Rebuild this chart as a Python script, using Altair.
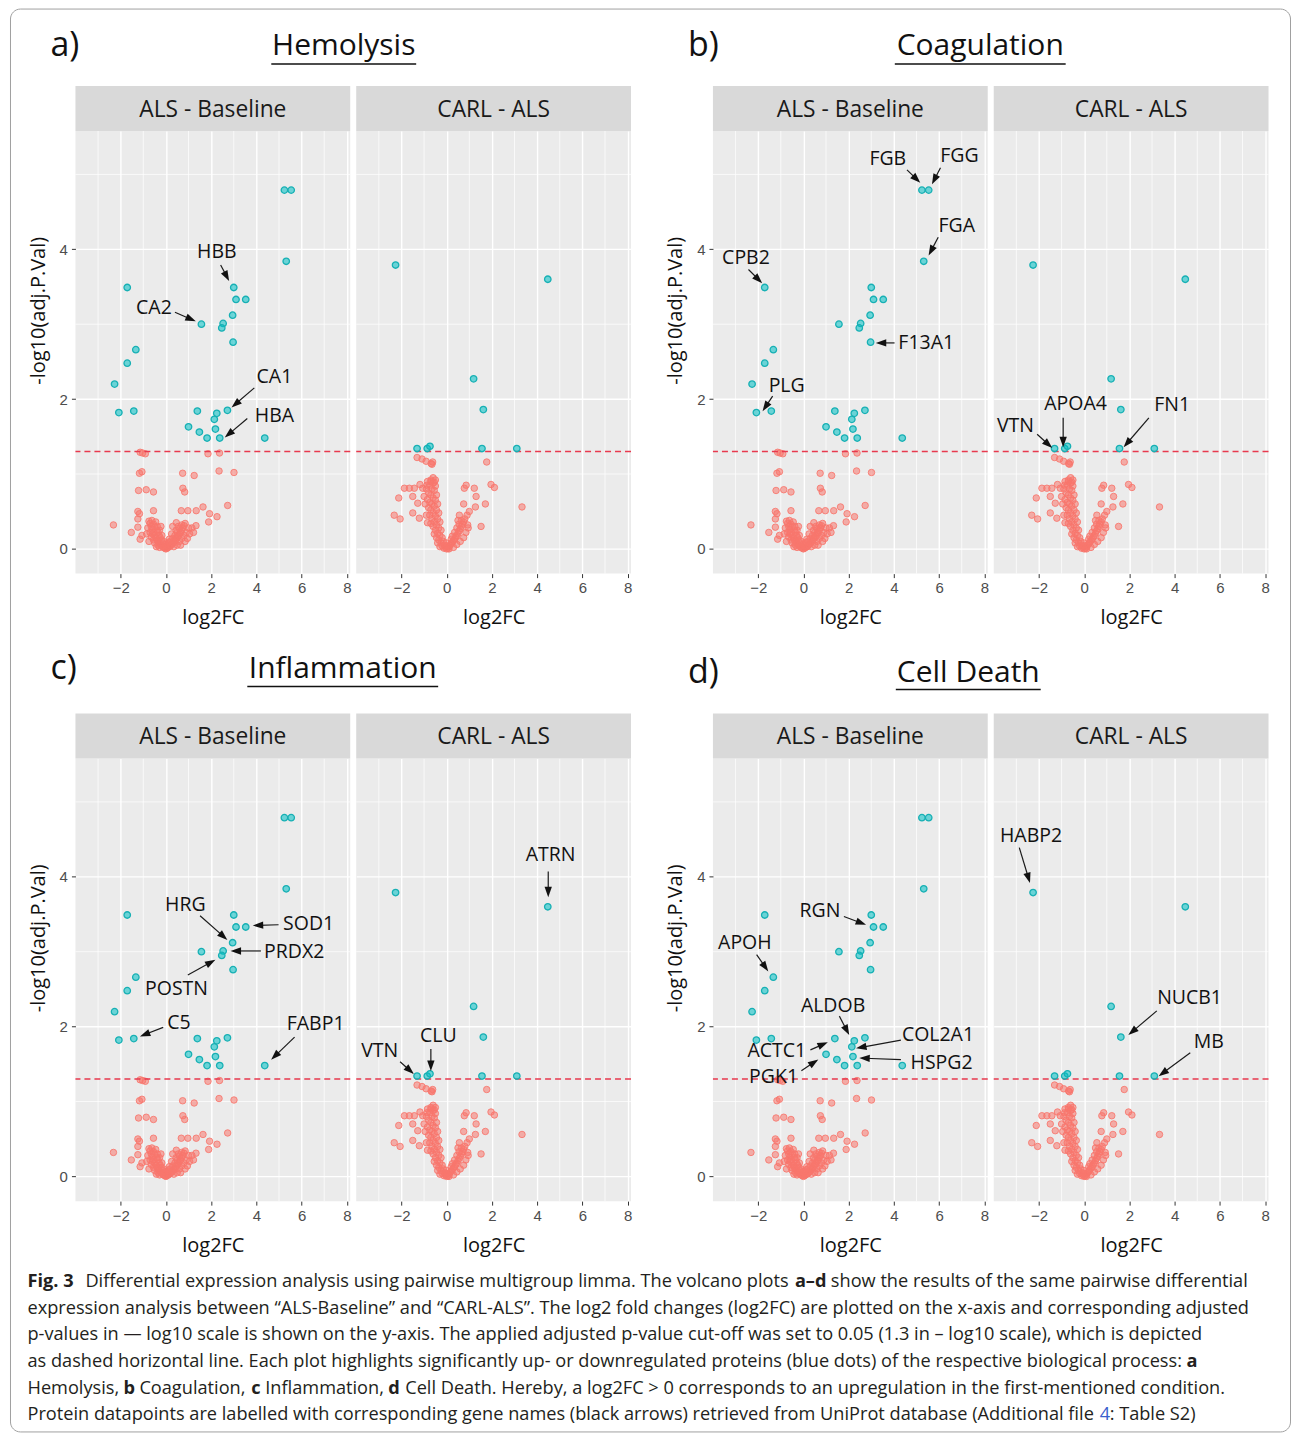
import math
import altair as alt
import pandas as pd

# ---------------- data ----------------
# ALS - Baseline : significant proteins (blue)
als_sig_x = [5.24, 5.54, 5.32, -1.71, 3.00, 3.10, 3.53, 2.95, 1.57, 2.53, 2.47, 2.97, -1.33, -1.71,
             -2.27, -2.08, -1.42, 1.39, 2.25, 2.72, 2.14, 1.00, 1.48, 2.19, 1.82, 2.38, 4.37]
als_sig_y = [4.79, 4.79, 3.84, 3.49, 3.49, 3.33, 3.33, 3.12, 3.00, 3.01, 2.95, 2.76, 2.66, 2.48,
             2.20, 1.82, 1.84, 1.84, 1.81, 1.85, 1.73, 1.63, 1.56, 1.60, 1.48, 1.48, 1.48]
# ALS - Baseline : non significant, scattered (red)
als_ns_x = [-1.14, -0.91, -1.03, 1.86, 2.37, -1.17, -1.06, 0.74, 1.25, 2.35, 3.01, -1.21, -0.87,
            -0.55, 0.75, 0.83, -1.24, -1.17, -0.55, 0.68, 0.97, 1.34, 1.64, 1.93, 2.26, 2.73, 1.89,
            1.33, -2.32, -1.53, -1.24, -1.14, 0.46, 1.15, 1.22, -1.24, -1.06]
als_ns_y = [1.29, 1.27, 1.28, 1.27, 1.28, 1.01, 1.03, 1.01, 0.98, 1.04, 1.02, 0.78, 0.79,
            0.76, 0.81, 0.76, 0.50, 0.47, 0.51, 0.51, 0.51, 0.51, 0.56, 0.47, 0.43, 0.58, 0.36,
            0.31, 0.32, 0.22, 0.29, 0.13, 0.35, 0.28, 0.22, 0.40, 0.18]
# ALS - Baseline : dense V of non significant proteins
als_v = [(0.0, 0.0), (-0.05, 0.01), (0.05, 0.01), (-0.1, 0.02), (0.1, 0.02), (-0.15, 0.03), (0.15, 0.03),
         (-0.2, 0.05), (0.2, 0.04), (-0.25, 0.06), (0.25, 0.06), (-0.3, 0.08), (0.3, 0.07), (-0.35, 0.1),
         (0.35, 0.09), (-0.4, 0.12), (0.4, 0.11), (-0.45, 0.15), (0.45, 0.13), (-0.5, 0.18), (0.5, 0.15),
         (-0.55, 0.22), (0.55, 0.17), (-0.6, 0.26), (0.6, 0.2), (-0.65, 0.3), (0.65, 0.22), (-0.7, 0.34),
         (0.7, 0.25), (-0.75, 0.37), (0.75, 0.28), (0.8, 0.31), (0.85, 0.34), (-0.2, 0.12), (-0.3, 0.18),
         (-0.4, 0.25), (-0.5, 0.3), (-0.45, 0.36), (-0.6, 0.2), (-0.35, 0.05), (-0.55, 0.12), (-0.65, 0.16),
         (-0.7, 0.22), (-0.8, 0.28), (-0.25, 0.15), (-0.15, 0.08), (-0.35, 0.22), (-0.5, 0.08), (-0.42, 0.03),
         (-0.28, 0.02), (-0.62, 0.38), (-0.55, 0.33), (-0.38, 0.3), (-0.28, 0.25), (-0.18, 0.18), (0.2, 0.1),
         (0.3, 0.14), (0.4, 0.18), (0.5, 0.22), (0.6, 0.27), (0.7, 0.32), (0.35, 0.03), (0.5, 0.05),
         (0.6, 0.1), (0.7, 0.14), (0.8, 0.18), (0.9, 0.22), (0.45, 0.25), (0.55, 0.3), (0.25, 0.2),
         (0.65, 0.05), (0.15, 0.13), (0.95, 0.14), (1.0, 0.28), (0.02, 0.04), (-0.03, 0.06), (0.08, 0.07),
         (-0.1, 0.1), (0.12, 0.09), (-0.85, 0.2), (-0.75, 0.1), (0.85, 0.1), (1.05, 0.2), (0.3, 0.3),
         (-0.22, 0.3)]

# CARL - ALS : significant proteins (blue)
carl_sig_x = [-2.26, 4.47, 1.19, 1.62, -1.31, -0.86, -0.74, 1.56, 3.10]
carl_sig_y = [3.79, 3.60, 2.27, 1.86, 1.34, 1.34, 1.37, 1.34, 1.34]
# CARL - ALS : non significant, scattered (red)
carl_ns_x = [-1.31, -1.09, -0.91, -0.69, -0.65, -0.62, 1.77, -1.87, -1.65, -1.43, -1.18, -1.06,
             -0.87, -0.69, -0.55, 0.86, 0.78, 1.22, 1.96, 2.11, -2.12, -1.50, -1.28, 0.75, 1.30,
             1.71, 1.27, 3.33, -2.32, -2.06, -1.50, -1.21, 1.52, 0.93, 0.56]
carl_ns_y = [1.22, 1.20, 1.17, 1.14, 1.13, 1.16, 1.16, 0.81, 0.81, 0.81, 0.86, 0.81,
             0.85, 0.90, 0.89, 0.85, 0.81, 0.81, 0.86, 0.82, 0.68, 0.70, 0.61, 0.60, 0.70,
             0.60, 0.56, 0.56, 0.45, 0.40, 0.48, 0.41, 0.30, 0.32, 0.45]
# CARL - ALS : dense V
carl_v = [(-0.85, 0.9), (-0.7, 0.92), (-0.6, 0.88), (-0.75, 0.85), (-0.5, 0.84), (-0.9, 0.8), (-0.65, 0.8),
          (-0.55, 0.78), (-0.8, 0.75), (-0.7, 0.72), (-0.45, 0.72), (-0.6, 0.68), (-0.85, 0.66), (-0.5, 0.65),
          (-0.75, 0.62), (-0.65, 0.6), (-0.4, 0.6), (-0.55, 0.57), (-0.8, 0.55), (-0.7, 0.52), (-0.45, 0.52),
          (-0.6, 0.48), (-0.35, 0.48), (-0.75, 0.45), (-0.5, 0.44), (-0.65, 0.4), (-0.4, 0.4), (-0.55, 0.36),
          (-0.3, 0.36), (-0.7, 0.34), (-0.45, 0.32), (-0.6, 0.3), (-0.35, 0.28), (-0.5, 0.25), (-0.25, 0.25),
          (-0.4, 0.21), (-0.55, 0.2), (-0.3, 0.18), (-0.2, 0.15), (-0.45, 0.15), (-0.35, 0.12), (-0.15, 0.1),
          (-0.25, 0.08), (-0.4, 0.08), (-0.1, 0.05), (-0.2, 0.04), (-0.3, 0.03), (-0.05, 0.02), (-0.12, 0.01),
          (-0.95, 0.6), (-1.0, 0.7), (-0.9, 0.45), (-0.85, 0.35), (-0.6, 0.95), (-0.5, 0.92),
          (0.05, 0.01), (0.1, 0.03), (0.15, 0.05), (0.2, 0.07), (0.25, 0.09), (0.3, 0.11), (0.35, 0.13),
          (0.4, 0.16), (0.45, 0.18), (0.5, 0.21), (0.55, 0.24), (0.6, 0.27), (0.65, 0.3), (0.7, 0.33),
          (0.75, 0.36), (0.8, 0.4), (0.9, 0.45), (0.25, 0.17), (0.35, 0.22), (0.45, 0.28), (0.55, 0.33),
          (0.65, 0.38), (0.3, 0.02), (0.45, 0.06), (0.6, 0.1), (0.75, 0.15), (0.85, 0.22), (0.95, 0.28),
          (1.0, 0.5), (0.5, 0.38), (0.2, 0.13), (0.1, 0.0), (0.0, 0.0), (0.0, 0.04), (-0.02, 0.08)]

facets = ["ALS - Baseline", "CARL - ALS"]
cutoff = [1.3]
x_ticks = [-2, 0, 2, 4, 6, 8]
y_ticks = [0, 2, 4]
x_minor = [-3, -1, 1, 3, 5, 7]
y_minor = [1, 3, 5]

panel_letters = ["a)", "b)", "c)", "d)"]
panel_titles = ["Hemolysis", "Coagulation", "Inflammation", "Cell Death"]

# gene labels: panel, facet, gene, text x/y, arrow start x/y, arrow end x/y  (data units)
labels = [
    ("a", 0, "HBB", 2.25, 3.96, 2.42, 3.79, 2.79, 3.58),
    ("a", 0, "CA2", -0.53, 3.21, 0.40, 3.16, 1.31, 3.04),
    ("a", 0, "CA1", 4.80, 2.29, 3.91, 2.15, 2.91, 1.89),
    ("a", 0, "HBA", 4.80, 1.78, 3.60, 1.74, 2.61, 1.49),
    ("b", 0, "FGB", 3.73, 5.21, 4.58, 5.06, 5.16, 4.89),
    ("b", 0, "FGG", 6.90, 5.24, 6.06, 5.09, 5.69, 4.87),
    ("b", 0, "FGA", 6.78, 4.31, 5.96, 4.16, 5.54, 3.92),
    ("b", 0, "CPB2", -2.54, 3.89, -2.43, 3.73, -1.83, 3.55),
    ("b", 0, "F13A1", 5.43, 2.75, 4.03, 2.75, 3.21, 2.75),
    ("b", 0, "PLG", -0.74, 2.18, -1.36, 2.04, -1.80, 1.84),
    ("b", 1, "VTN", -3.04, 1.64, -2.08, 1.53, -1.42, 1.35),
    ("b", 1, "APOA4", -0.38, 1.93, -0.93, 1.75, -0.93, 1.36),
    ("b", 1, "FN1", 3.89, 1.92, 2.86, 1.75, 1.75, 1.36),
    ("c", 0, "HRG", 0.86, 3.63, 1.51, 3.48, 2.71, 3.16),
    ("c", 0, "SOD1", 6.31, 3.37, 4.98, 3.36, 3.85, 3.35),
    ("c", 0, "PRDX2", 5.67, 2.99, 4.20, 3.01, 2.87, 3.01),
    ("c", 0, "POSTN", 0.47, 2.50, 0.97, 2.69, 2.18, 2.89),
    ("c", 0, "C5", 0.58, 2.05, -0.12, 1.99, -1.14, 1.87),
    ("c", 0, "FABP1", 6.62, 2.03, 5.69, 1.86, 4.66, 1.56),
    ("c", 1, "ATRN", 4.59, 4.29, 4.49, 4.07, 4.49, 3.73),
    ("c", 1, "VTN", -2.96, 1.68, -2.06, 1.53, -1.46, 1.37),
    ("c", 1, "CLU", -0.37, 1.88, -0.70, 1.70, -0.70, 1.41),
    ("d", 0, "RGN", 0.73, 3.54, 1.79, 3.47, 2.76, 3.36),
    ("d", 0, "APOH", -2.59, 3.12, -2.07, 2.96, -1.56, 2.74),
    ("d", 0, "ALDOB", 1.31, 2.28, 1.59, 2.14, 2.02, 1.89),
    ("d", 0, "COL2A1", 5.95, 1.89, 4.31, 1.82, 2.34, 1.71),
    ("d", 0, "HSPG2", 6.11, 1.52, 4.31, 1.56, 2.48, 1.58),
    ("d", 0, "ACTC1", -1.18, 1.68, 0.31, 1.69, 1.07, 1.79),
    ("d", 0, "PGK1", -1.32, 1.33, -0.09, 1.41, 0.65, 1.56),
    ("d", 1, "HABP2", -2.35, 4.55, -2.87, 4.39, -2.40, 3.92),
    ("d", 1, "NUCB1", 4.66, 2.38, 3.21, 2.21, 1.96, 1.89),
    ("d", 1, "MB", 5.51, 1.80, 4.69, 1.65, 3.30, 1.34),
]

INK = "#231F20"
caption_lines = [
    [("Fig. 3", 27, "bold", INK),
     ("Differential expression analysis using pairwise multigroup limma. The volcano plots", 85, "normal", INK),
     ("a–d", 795, "bold", INK),
     ("show the results of the same pairwise differential", 831, "normal", INK)],
    [("expression analysis between “ALS-Baseline” and “CARL-ALS”. The log2 fold changes (log2FC) are plotted on the x-axis and corresponding adjusted", 27, "normal", INK)],
    [("p-values in — log10 scale is shown on the y-axis. The applied adjusted p-value cut-off was set to 0.05 (1.3 in – log10 scale), which is depicted", 27, "normal", INK)],
    [("as dashed horizontal line. Each plot highlights significantly up- or downregulated proteins (blue dots) of the respective biological process:", 27, "normal", INK),
     ("a", 1187, "bold", INK)],
    [("Hemolysis,", 27, "normal", INK), ("b", 123, "bold", INK),
     ("Coagulation,", 139, "normal", INK), ("c", 251, "bold", INK),
     ("Inflammation,", 265, "normal", INK), ("d", 388, "bold", INK),
     ("Cell Death. Hereby, a log2FC > 0 corresponds to an upregulation in the first-mentioned condition.", 405, "normal", INK)],
    [("Protein datapoints are labelled with corresponding gene names (black arrows) retrieved from UniProt database (Additional file", 27, "normal", INK),
     ("4", 1100, "normal", "#3A5FCD"),
     (": Table S2)", 1110, "normal", INK)],
]
caption_line_y = [1282, 1309, 1335, 1362, 1389, 1415]

# ---------------- layout / style ----------------
X_DOMAIN = [-4.0, 8.15]
Y_DOMAIN = [-0.33, 5.58]
W, H = 275, 443
PX_X = W / (X_DOMAIN[1] - X_DOMAIN[0])
PX_Y = H / (Y_DOMAIN[1] - Y_DOMAIN[0])
BLUE, RED = "#00BFC4", "#F8766D"
FONT = "Open Sans"
ORIGIN_X = 75          # page x of left facet plot area
ROW_TOP = [130, 758]   # page y of plot tops
ROW_GAP = ROW_TOP[1] - ROW_TOP[0] - H
CAP_TOP = ROW_TOP[1] + H + ROW_GAP
COL_GAP = 6
SPACER_W = 713 - 75 - 2 * W - 3 * COL_GAP

# header layout (relative to left facet origin): letter x, title centre, underline x0,x1, y centre, underline y
headers = {
    "a": (-25, 268.5, 196, 341, -85, -67),
    "b": (-25, 267.5, 182, 353, -85, -67),
    "c": (-25, 267.5, 172, 363, -90, -72),
    "d": (-25, 255.5, 183, 328, -86, -69),
}

xs = alt.Scale(domain=X_DOMAIN, nice=False, zero=False)
ys = alt.Scale(domain=Y_DOMAIN, nice=False, zero=False)


def arrow_rows(sub):
    rows = []
    head = 5.0
    for (_, _, g, tx, ty, x1, y1, x2, y2) in sub:
        dxp = (x2 - x1) * PX_X
        dyp = -(y2 - y1) * PX_Y
        L = math.hypot(dxp, dyp)
        ux, uy = dxp / L, dyp / L
        hx = x2 - head * ux / PX_X
        hy = y2 + head * uy / PX_Y
        ang = math.degrees(math.atan2(ux, -uy)) % 360
        rows.append(dict(gene=g, tx=tx, ty=ty, x1=x1, y1=y1, hx=hx, hy=hy, ang=ang))
    return pd.DataFrame(rows)


def facet_chart(panel_idx, facet_idx):
    pkey = "abcd"[panel_idx]
    left = facet_idx == 0
    xaxis = alt.Axis(values=x_ticks, title="log2FC", grid=True, gridColor="white", gridWidth=1.4,
                     domain=False, tickColor="#333333", tickSize=4, tickWidth=1,
                     labelFont="Liberation Sans", labelFontSize=15, labelColor="#4D4D4D",
                     labelPadding=3, labelFlush=False, titleFont=FONT, titleFontSize=20,
                     titleFontWeight="normal", titleColor="#111111", titlePadding=12)
    if left:
        yaxis = alt.Axis(values=y_ticks, title="-log10(adj.P.Val)", grid=True, gridColor="white",
                         gridWidth=1.4, domain=False, tickColor="#333333", tickSize=4, tickWidth=1,
                         labelFont="Liberation Sans", labelFontSize=15, labelColor="#4D4D4D",
                         labelPadding=4, labelFlush=False, titleFont=FONT, titleFontSize=20,
                         titleFontWeight="normal", titleColor="#111111", titlePadding=11,
                         titleY=H / 2 - 42)
    else:
        yaxis = alt.Axis(values=y_ticks, title="", grid=True, gridColor="white", gridWidth=1.4,
                         domain=False, ticks=False, labels=False)

    def X(f):
        return alt.X(f, type="quantitative", scale=xs, axis=xaxis)

    def Y(f):
        return alt.Y(f, type="quantitative", scale=ys, axis=yaxis)

    if left:
        sig = pd.DataFrame({"x": als_sig_x, "y": als_sig_y})
        ns = pd.DataFrame({"x": als_ns_x + [p[0] for p in als_v], "y": als_ns_y + [p[1] for p in als_v]})
    else:
        sig = pd.DataFrame({"x": carl_sig_x, "y": carl_sig_y})
        ns = pd.DataFrame({"x": carl_ns_x + [p[0] for p in carl_v], "y": carl_ns_y + [p[1] for p in carl_v]})

    layers = []
    layers.append(alt.Chart(pd.DataFrame({"v": x_minor})).mark_rule(color="white", strokeWidth=0.7)
                  .encode(x=X("v")))
    layers.append(alt.Chart(pd.DataFrame({"v": y_minor})).mark_rule(color="white", strokeWidth=0.7)
                  .encode(y=Y("v")))
    strip_df = pd.DataFrame({"s": [facets[facet_idx]]})
    layers.append(alt.Chart(strip_df).mark_rect(color="#D9D9D9")
                  .encode(x=alt.value(0), x2=alt.value(W), y=alt.value(-45), y2=alt.value(0)))
    layers.append(alt.Chart(strip_df).mark_text(font=FONT, fontSize=22.8, color="#1A1A1A")
                  .encode(x=alt.value(W / 2), y=alt.value(-21), text="s:N"))
    layers.append(alt.Chart(ns).mark_circle(size=42, color=RED, fillOpacity=0.55, stroke=RED,
                                            strokeWidth=1, strokeOpacity=0.85)
                  .encode(x=X("x"), y=Y("y")))
    layers.append(alt.Chart(pd.DataFrame({"c": cutoff})).mark_rule(color="#E8394E", strokeWidth=1.6,
                                                                   strokeDash=[6, 4])
                  .encode(y=Y("c")))
    layers.append(alt.Chart(sig).mark_circle(size=42, color=BLUE, fillOpacity=0.55, stroke="#17B0B4",
                                             strokeWidth=1.3, strokeOpacity=1)
                  .encode(x=X("x"), y=Y("y")))

    sub = [r for r in labels if r[0] == pkey and r[1] == facet_idx]
    if sub:
        adf = arrow_rows(sub)
        layers.append(alt.Chart(adf).mark_rule(color="#1A1A1A", strokeWidth=1.2)
                      .encode(x=X("x1"), y=Y("y1"), x2="hx:Q", y2="hy:Q"))
        layers.append(alt.Chart(adf).mark_point(shape="M0,-1L0.7,1L-0.7,1Z", filled=True, size=110,
                                                color="#111111", opacity=1)
                      .encode(x=X("hx"), y=Y("hy"), angle=alt.Angle("ang:Q", scale=None)))
        layers.append(alt.Chart(adf).mark_text(font=FONT, fontSize=19.5, color="#111111")
                      .encode(x=X("tx"), y=Y("ty"), text="gene:N"))

    if left:
        lx, tcx, u0, u1, hy, uy = headers[pkey]
        hdf = pd.DataFrame({"l": [panel_letters[panel_idx]], "t": [panel_titles[panel_idx]]})
        layers.append(alt.Chart(hdf).mark_text(font=FONT, fontSize=34, align="left", color="#111111")
                      .encode(x=alt.value(lx), y=alt.value(hy), text="l:N"))
        layers.append(alt.Chart(hdf).mark_text(font=FONT, fontSize=30, color="#111111")
                      .encode(x=alt.value(tcx), y=alt.value(hy), text="t:N"))
        layers.append(alt.Chart(hdf).mark_rule(color="#111111", strokeWidth=1.6)
                      .encode(x=alt.value(u0), x2=alt.value(u1), y=alt.value(uy)))

    return alt.layer(*layers).properties(width=W, height=H,
                                         view=alt.ViewBackground(fill="#EBEBEB", strokeWidth=0))


def spacer():
    return alt.Chart(pd.DataFrame({"a": [0]})).mark_point(opacity=0).encode(
        x=alt.value(0), y=alt.value(0)).properties(width=SPACER_W, height=H,
                                                   view=alt.ViewBackground(strokeWidth=0))


# caption
cap_layers = []
for line, yy in zip(caption_lines, caption_line_y):
    for (txt, xx, wt, col) in line:
        cap_layers.append(alt.Chart(pd.DataFrame({"t": [txt]})).mark_text(
            font=FONT, fontSize=18.2, fontWeight=wt, color=col, align="left", baseline="middle")
            .encode(x=alt.value(xx - ORIGIN_X), y=alt.value(yy - CAP_TOP), text="t:N"))
frame_df = pd.DataFrame({"f": [1]})
cap_layers.append(alt.Chart(frame_df).mark_rect(filled=False, color="#A0A0A0", strokeWidth=1,
                                                cornerRadius=10)
                  .encode(x=alt.value(10 - ORIGIN_X), x2=alt.value(1291 - ORIGIN_X),
                          y=alt.value(8 - CAP_TOP), y2=alt.value(1432 - CAP_TOP)))
caption = alt.layer(*cap_layers).properties(width=W, height=40,
                                            view=alt.ViewBackground(strokeWidth=0))

cells = [facet_chart(0, 0), facet_chart(0, 1), spacer(), facet_chart(1, 0), facet_chart(1, 1),
         facet_chart(2, 0), facet_chart(2, 1), spacer(), facet_chart(3, 0), facet_chart(3, 1),
         caption]

chart = alt.concat(*cells, columns=5, spacing={"row": ROW_GAP, "column": COL_GAP},
                   bounds="flush", align="each").properties(
    padding={"left": 9.5, "top": 7.5, "right": 1.5, "bottom": 1.5},
    background="white",
).configure_view(strokeWidth=0)

chart.save("out.html", embed_options={"renderer": "svg", "actions": False})
